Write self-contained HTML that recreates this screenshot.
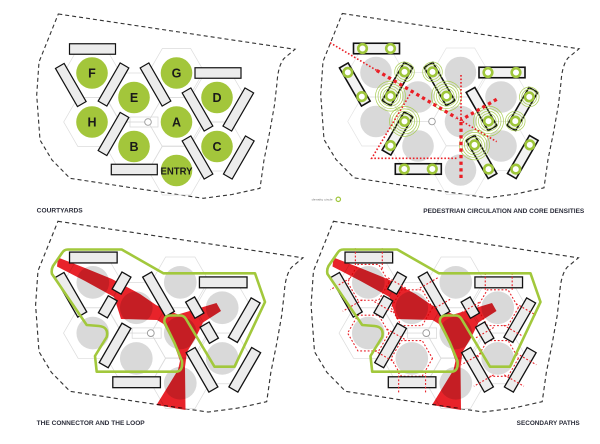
<!DOCTYPE html>
<html><head><meta charset="utf-8"><style>
html,body{margin:0;padding:0;background:#fff;}
svg{display:block;}
.lbl{font-family:"Liberation Sans",Arial,sans-serif;font-weight:bold;fill:#2b2d3a;}
.let{font-family:"Liberation Sans",Arial,sans-serif;font-weight:bold;fill:#1a1a1a;text-anchor:middle;}
</style></head><body>
<svg width="600" height="444" viewBox="0 0 600 444" xmlns="http://www.w3.org/2000/svg">
<defs>
<path id="bnd" d="M58.3,14 L295,49.3 L284,58.5 Q278,66 277,83 L274.5,105 L269.5,133 L264,160 L260,188.3 L232,194.5 L203.3,198.3 L130,187.5 L70,178.3 L52,160 L40,140 L36.7,95 L39,62 Z"/>
<polygon id="hx" points="28.3,0 14.15,24.5 -14.15,24.5 -28.3,0 -14.15,-24.5 14.15,-24.5"/>
<polygon id="hs" points="20,0 10,17.3 -10,17.3 -20,0 -10,-17.3 10,-17.3"/>
<g id="hexes">
<use href="#hx" x="92" y="73"/><use href="#hx" x="176.5" y="73"/><use href="#hx" x="134" y="97.5"/>
<use href="#hx" x="217" y="97.5"/><use href="#hx" x="92" y="122"/><use href="#hx" x="176.5" y="122"/>
<use href="#hx" x="134" y="146.5"/><use href="#hx" x="217" y="146.5"/><use href="#hx" x="176.5" y="170.5"/>
</g>
<g id="circ">
<circle cx="92" cy="73" r="15.8"/><circle cx="176.5" cy="73" r="15.8"/><circle cx="134" cy="97.5" r="15.8"/>
<circle cx="217" cy="97.5" r="15.8"/><circle cx="92" cy="122" r="15.8"/><circle cx="176.5" cy="122" r="15.8"/>
<circle cx="134" cy="146.5" r="15.8"/><circle cx="217" cy="146.5" r="15.8"/><circle cx="176.5" cy="170.5" r="15.8"/>
</g>
<g id="barsC">
<rect x="-23" y="-5.25" width="46" height="10.5" transform="translate(92.5,49)"/>
<rect x="-23" y="-5.25" width="46" height="10.5" transform="translate(218,73)"/>
<rect x="-23" y="-5.25" width="46" height="10.5" transform="translate(134.3,169.5)"/>
<rect x="-22" y="-5" width="44" height="10" transform="translate(70.8,85) rotate(60)"/>
<rect x="-22" y="-5" width="44" height="10" transform="translate(155.5,84.5) rotate(60)"/>
<rect x="-22" y="-5" width="44" height="10" transform="translate(113.5,134) rotate(-60)"/>
<rect x="-22" y="-5" width="44" height="10" transform="translate(238.3,109.5) rotate(-60)"/>
<rect x="-22" y="-5" width="44" height="10" transform="translate(197.5,157.5) rotate(60)"/>
<rect x="-22" y="-5" width="44" height="10" transform="translate(238.8,157.5) rotate(-60)"/>
</g>
<g id="b25f">
<rect x="-22" y="-5" width="44" height="10" transform="translate(113.5,84.5) rotate(-60)"/>
<rect x="-22" y="-5" width="44" height="10" transform="translate(197.5,109.5) rotate(60)"/>
</g>
<g id="b25s">
<rect x="3" y="-5" width="19" height="10" transform="translate(113.5,84.5) rotate(-60)"/>
<rect x="-23.5" y="-5" width="19" height="10" transform="translate(113.5,84.5) rotate(-60)"/>
<rect x="-23" y="-5" width="18" height="10" transform="translate(197.5,109.5) rotate(60)"/>
<rect x="5" y="-5" width="18" height="10" transform="translate(197.5,109.5) rotate(60)"/>
</g>
<path id="red" d="M58,257.5 L85,268 L112,279 L140,294 L156,305 L178,314.5 L216.5,303 L221,311 L203,322.5 L196,337 L187,352 L185,367 L185.5,410 L156.5,405 L178,370 L180,361 L174,344 L163.5,324 L157,320 L121,319 L114,297 L85,281 L57,266.5 Z"/>
<path id="loop" d="M68,249.5 L121.7,249.5 L163.3,273.3 L255,273.3 L265,302 L234.5,366.7 L214.5,366.7 L186,319 Q184,315.5 180,315.5 L170,315.5 Q163.5,316 164.5,322.5 L174.5,343 L182,361 Q183,371.7 176,371.7 L96.7,371.7 L95,356 L106.7,337 Q109,327 99,326 L86.7,325 L52,274 Q51,270 53,266 L62,253 Q64,249.5 68,249.5 Z"/>
<g id="core"><circle r="4.3" fill="#fff" stroke="#9fc63b" stroke-width="2.6"/></g>
<g id="ringL" fill="none" stroke="#a9cd55" stroke-width="0.7"><circle r="7.5"/><circle r="10"/><circle r="12.5"/><circle r="15"/></g>
<g id="ringS" fill="none" stroke="#a9cd55" stroke-width="0.7"><circle r="7.5"/><circle r="9.8"/></g>
<g id="cross" fill="none" stroke="#e8232a" stroke-width="1.1" stroke-dasharray="1.8 1.8">
<path d="M-13,-9V12M13,-9V12" transform="translate(92.5,49)"/>
<path d="M-13,-9V9M13,-9V9" transform="translate(218,73)"/>
<path d="M-13,-10V10M13,-10V10" transform="translate(134.3,169.5)"/>
<path d="M-12,-11V11M12,-11V11" transform="translate(70.8,85) rotate(60)"/>
<path d="M-12,-11V11M12,-11V11" transform="translate(155.5,84.5) rotate(60)"/>
<path d="M-12,-11V11M12,-11V11" transform="translate(113.5,134) rotate(-60)"/>
<path d="M-12,-11V11M12,-11V11" transform="translate(238.3,109.5) rotate(-60)"/>
<path d="M-12,-11V11M12,-11V11" transform="translate(197.5,157.5) rotate(60)"/>
<path d="M-12,-11V11M12,-11V11" transform="translate(238.8,157.5) rotate(-60)"/>
<path d="M12.5,-10V10M-14,-10V10" transform="translate(113.5,84.5) rotate(-60)"/>
<path d="M-14,-10V10M14,-10V10" transform="translate(197.5,109.5) rotate(60)"/>
</g>
<g id="dhex" fill="none" stroke="#e8232a" stroke-width="1.05" stroke-dasharray="1.8 1.8" stroke-linejoin="round">
<use href="#hs" x="92" y="73"/><use href="#hs" x="134" y="97.5"/><use href="#hs" x="92" y="122"/>
<use href="#hs" x="217" y="97.5"/><use href="#hs" x="217" y="146.5"/><use href="#hs" x="134" y="146.5"/>
</g>
</defs>

<!-- PANEL 1: COURTYARDS -->
<g>
<use href="#bnd" fill="none" stroke="#333" stroke-width="1.1" stroke-dasharray="4 3"/>
<use href="#hexes" fill="none" stroke="#dcdcdc" stroke-width="0.7"/>
<rect x="130" y="117" width="28" height="10" fill="none" stroke="#d6d6d6" stroke-width="0.7"/>
<circle cx="148" cy="122" r="3.3" fill="#fff" stroke="#999" stroke-width="0.9"/>
<use href="#circ" fill="#a3c63b"/>
<use href="#barsC" fill="#ececec" stroke="#111" stroke-width="1.2"/>
<use href="#b25f" fill="#ececec" stroke="#111" stroke-width="1.2"/>
<text class="let" x="92" y="77.5" font-size="12.5">F</text>
<text class="let" x="176.5" y="77.5" font-size="12.5">G</text>
<text class="let" x="134" y="102" font-size="12.5">E</text>
<text class="let" x="217" y="102" font-size="12.5">D</text>
<text class="let" x="92" y="126.5" font-size="12.5">H</text>
<text class="let" x="176.5" y="126.5" font-size="12.5">A</text>
<text class="let" x="134" y="151" font-size="12.5">B</text>
<text class="let" x="217" y="151" font-size="12.5">C</text>
<text class="let" x="176.5" y="174.5" font-size="10.5" textLength="32" lengthAdjust="spacingAndGlyphs">ENTRY</text>
<text class="lbl" x="36.7" y="212.4" font-size="6" textLength="46" lengthAdjust="spacingAndGlyphs">COURTYARDS</text>
</g>

<!-- PANEL 2: PEDESTRIAN -->
<g transform="translate(284,-0.5)">
<use href="#bnd" fill="none" stroke="#333" stroke-width="1.1" stroke-dasharray="4 3"/>
<use href="#hexes" fill="none" stroke="#e3e3e3" stroke-width="0.7"/>
<use href="#circ" fill="#d9d9d9"/>
<circle cx="148" cy="122" r="3.3" fill="#fff" stroke="#999" stroke-width="0.9"/>
<use href="#barsC" fill="#f2f2f2" stroke="#111" stroke-width="1.6"/>
<use href="#b25f" fill="#f2f2f2" stroke="#111" stroke-width="1.6"/>
<use href="#ringL" x="106.5" y="96.6"/><use href="#ringL" x="162.5" y="96.6"/>
<use href="#ringL" x="120.5" y="121.9"/><use href="#ringL" x="204.5" y="121.6"/>
<use href="#ringL" x="190.5" y="145.4"/>
<use href="#ringS" x="120.5" y="72.4"/><use href="#ringS" x="148.5" y="72.4"/>
<use href="#ringS" x="245.3" y="97.4"/><use href="#ringS" x="231.3" y="121.6"/>
<use href="#core" x="78.5" y="49"/><use href="#core" x="106.5" y="49"/>
<use href="#core" x="204" y="73"/><use href="#core" x="232" y="73"/>
<use href="#core" x="120.3" y="169.5"/><use href="#core" x="148.3" y="169.5"/>
<use href="#core" x="63.8" y="72.9"/><use href="#core" x="77.8" y="97.1"/>
<use href="#core" x="120.5" y="72.4"/><use href="#core" x="106.5" y="96.6"/>
<use href="#core" x="148.5" y="72.4"/><use href="#core" x="162.5" y="96.6"/>
<use href="#core" x="120.5" y="121.9"/><use href="#core" x="106.5" y="146.1"/>
<use href="#core" x="204.5" y="121.6"/>
<use href="#core" x="245.3" y="97.4"/><use href="#core" x="231.3" y="121.6"/>
<use href="#core" x="190.5" y="145.4"/><use href="#core" x="204.5" y="169.6"/>
<use href="#core" x="245.8" y="145.4"/><use href="#core" x="231.8" y="169.6"/>
</g>
<g fill="none" stroke="#ea1f26">
<path d="M330,42.7 L376.7,70.4 M456.7,118 L496.7,141.7 M461,75 L461,120 M411.7,91.5 L371.7,158.3 L456.7,158.3" stroke-width="1.6" stroke-dasharray="1.6 1.9"/>
<path d="M376.7,70.4 L456.7,118 M461,122 L461,178 M496.7,99.3 L461,120" stroke-width="3.3" stroke-dasharray="3.3 3.3"/>
</g>
<text x="311.7" y="200.3" font-size="2.6" fill="#777" font-family="Liberation Sans, sans-serif" textLength="21" lengthAdjust="spacingAndGlyphs">density circle</text>
<circle cx="338.3" cy="199.3" r="2.2" fill="#fff" stroke="#9fc63b" stroke-width="1.2"/>
<text class="lbl" x="423.3" y="213.1" font-size="6" textLength="161" lengthAdjust="spacingAndGlyphs">PEDESTRIAN CIRCULATION AND CORE DENSITIES</text>

<!-- PANEL 3: CONNECTOR AND LOOP -->
<g transform="matrix(1.035 0 0 1.035 -2.4 206.8)">
<use href="#bnd" fill="none" stroke="#333" stroke-width="1.1" stroke-dasharray="4 3"/>
<use href="#hexes" fill="none" stroke="#dcdcdc" stroke-width="0.7"/>
<rect x="130" y="117" width="28" height="10" fill="none" stroke="#d6d6d6" stroke-width="0.7"/>
<circle cx="148" cy="122" r="3.3" fill="#fff" stroke="#999" stroke-width="0.9"/>
<use href="#circ" fill="#d9d9d9"/>
</g>
<g style="mix-blend-mode:multiply"><use href="#red" fill="#e8232a"/></g>
<g transform="matrix(1.035 0 0 1.035 -2.4 206.8)">
<use href="#barsC" fill="#ececec" stroke="#111" stroke-width="1.25"/>
<use href="#b25s" fill="#ececec" stroke="#111" stroke-width="1.25"/>
</g>
<use href="#loop" fill="none" stroke="#a2c83c" stroke-width="2.6" stroke-linejoin="round"/>
<text class="lbl" x="36.7" y="425" font-size="6" textLength="108" lengthAdjust="spacingAndGlyphs">THE CONNECTOR AND THE LOOP</text>

<!-- PANEL 4: SECONDARY PATHS -->
<g transform="matrix(1.035 0 0 1.035 273.1 206.8)">
<use href="#bnd" fill="none" stroke="#333" stroke-width="1.1" stroke-dasharray="4 3"/>
<use href="#hexes" fill="none" stroke="#dcdcdc" stroke-width="0.7"/>
<rect x="130" y="117" width="28" height="10" fill="none" stroke="#d6d6d6" stroke-width="0.7"/>
<circle cx="148" cy="122" r="3.3" fill="#fff" stroke="#999" stroke-width="0.9"/>
<use href="#circ" fill="#d9d9d9"/>
<use href="#dhex"/>
</g>
<g style="mix-blend-mode:multiply" transform="translate(275.5,0)"><use href="#red" fill="#e8232a"/></g>
<g transform="matrix(1.035 0 0 1.035 273.1 206.8)">
<use href="#barsC" fill="#ececec" stroke="#111" stroke-width="1.25"/>
<use href="#b25s" fill="#ececec" stroke="#111" stroke-width="1.25"/>
<use href="#cross"/>
</g>
<use href="#loop" transform="translate(275.5,0)" fill="none" stroke="#a2c83c" stroke-width="2.6" stroke-linejoin="round"/>
<text class="lbl" x="516.7" y="425" font-size="6" textLength="63" lengthAdjust="spacingAndGlyphs">SECONDARY PATHS</text>
</svg>
</body></html>
